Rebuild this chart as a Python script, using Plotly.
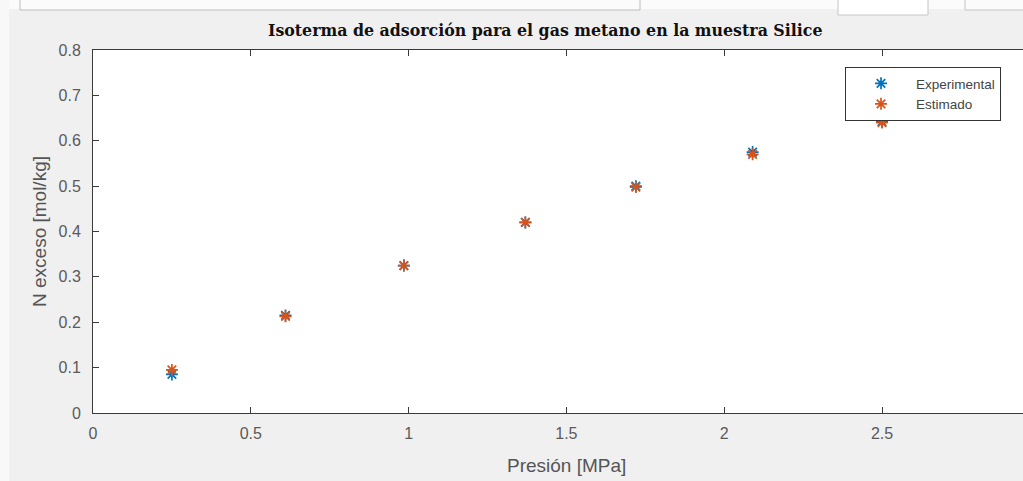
import plotly.graph_objects as go

# Data
presion_exp = [0.25, 0.61, 0.985, 1.37, 1.72, 2.09, 2.50]
n_exp = [0.085, 0.215, 0.325, 0.42, 0.50, 0.575, 0.642]
presion_est = [0.25, 0.61, 0.985, 1.37, 1.72, 2.09, 2.50]
n_est = [0.095, 0.213, 0.325, 0.42, 0.498, 0.570, 0.640]

x_ticks = [0, 0.5, 1, 1.5, 2, 2.5]
y_ticks = [0, 0.1, 0.2, 0.3, 0.4, 0.5, 0.6, 0.7, 0.8]

title_text = "Isoterma de adsorción para el gas metano en la muestra Silice"
x_label = "Presión [MPa]"
y_label = "N exceso [mol/kg]"

W, H = 1023, 481
ml, mr, mt, mb = 93, 0, 50, 68
PW, PH = W - ml - mr, H - mt - mb


def px_x(x):
    return (x - ml) / PW


def px_y(y):
    return (H - mb - y) / PH


fig = go.Figure()
fig.add_trace(go.Scatter(
    x=presion_exp, y=n_exp, mode="markers", name="Experimental",
    marker=dict(symbol="asterisk-open", size=10,
                line=dict(color="#0072BD", width=1.7), color="#0072BD"),
))
fig.add_trace(go.Scatter(
    x=presion_est, y=n_est, mode="markers", name="Estimado",
    marker=dict(symbol="asterisk-open", size=10,
                line=dict(color="#D95319", width=1.7), color="#D95319"),
))

axis_col = "#3a3a3a"
sans = "Liberation Sans, Arial, sans-serif"
tick_font = dict(family=sans, size=16, color="#5a5a5a")

fig.update_layout(
    width=W, height=H,
    margin=dict(l=ml, r=mr, t=mt, b=mb),
    paper_bgcolor="#f0f0f0",
    plot_bgcolor="white",
    showlegend=True,
    legend=dict(
        x=px_x(845), y=px_y(67),
        xanchor="left", yanchor="top",
        bgcolor="white", bordercolor="#333333", borderwidth=1,
        font=dict(family=sans, size=13.5, color="#444444"),
        itemwidth=60, tracegroupgap=0,
    ),
    xaxis=dict(
        range=[0, PW / 315.6], tickvals=x_ticks,
        ticktext=[f"{v:g}" for v in x_ticks],
        showgrid=False, zeroline=False,
        showline=True, linecolor=axis_col, linewidth=1, mirror="ticks",
        ticks="inside", ticklen=6, tickcolor=axis_col,
        tickfont=tick_font, ticklabelstandoff=6,
    ),
    yaxis=dict(
        range=[0, 0.8], tickvals=y_ticks,
        ticktext=[f"{v:g}" for v in y_ticks],
        showgrid=False, zeroline=False,
        showline=True, linecolor=axis_col, linewidth=1, mirror=False,
        ticks="inside", ticklen=6, tickcolor=axis_col,
        tickfont=tick_font, ticklabelstandoff=8,
    ),
)

# Axis titles and title as annotations
fig.add_annotation(text=x_label, x=1.5, xref="x", y=px_y(465), yref="paper",
                   yanchor="middle", showarrow=False,
                   font=dict(family=sans, size=19, color="#555555"))

fig.add_annotation(text=y_label, textangle=-90, x=px_x(40), xref="paper",
                   y=px_y(232), yref="paper", showarrow=False, xanchor="center",
                   yanchor="middle",
                   font=dict(family=sans, size=19, color="#555555"))

fig.add_annotation(text="<b>" + title_text + "</b>", x=px_x(545), xref="paper",
                   y=px_y(30), yref="paper", showarrow=False,
                   xanchor="center", yanchor="middle",
                   font=dict(family="DejaVu Serif, Liberation Serif, serif", size=15.8, color="#111111"))


# Screenshot window artifacts at the top / left
def px_rect(x0, y0, x1, y1, fill, line, lw=1):
    fig.add_shape(type="rect", xref="paper", yref="paper",
                  x0=px_x(x0), x1=px_x(x1), y0=px_y(y1), y1=px_y(y0),
                  fillcolor=fill, line=dict(color=line, width=lw), layer="below")


px_rect(-2, -2, 1030, 9, "#fbfbfb", "rgba(0,0,0,0)", 0)
px_rect(20, -4, 640, 10, "#fbfbfb", "#bcbcbc")
px_rect(838, -4, 928, 15, "#ffffff", "#c4c4c4")
px_rect(965, -4, 1030, 10, "#fbfbfb", "#c4c4c4")
px_rect(-2, -2, 9, 490, "#f8f8f8", "rgba(0,0,0,0)", 0)

fig.write_html("out.html", config={"displayModeBar": False},
               post_script="document.body.style.margin='0px';")
